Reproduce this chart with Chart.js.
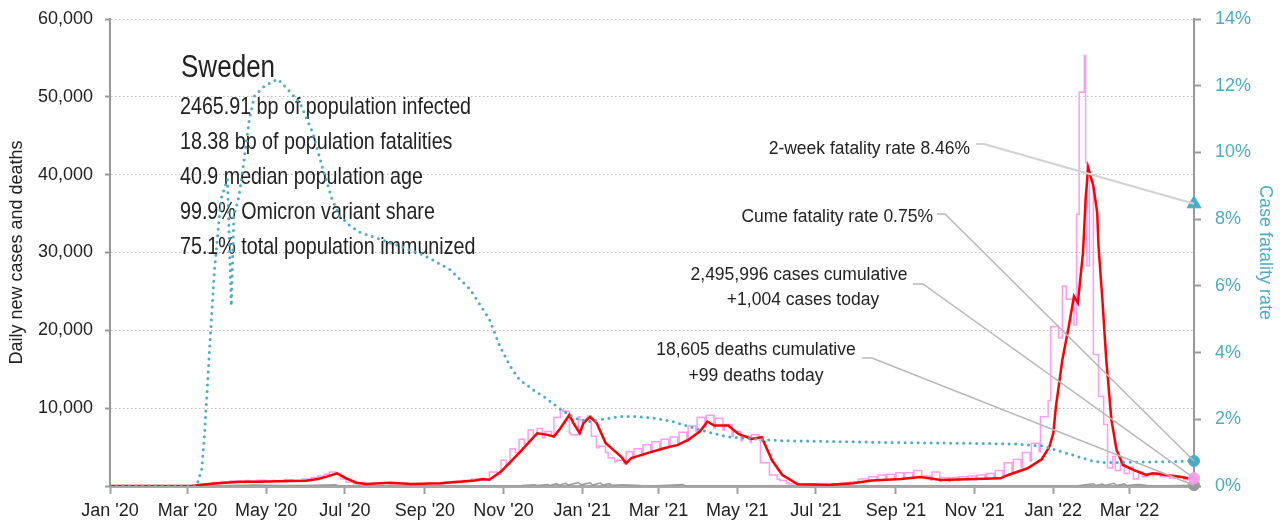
<!DOCTYPE html>
<html>
<head>
<meta charset="utf-8">
<script src="https://cdn.jsdelivr.net/npm/chart.js@4.4.1/dist/chart.umd.min.js"></script>
<style>
  html, body { margin: 0; padding: 0; background: #fff; }
  canvas { display: block; }
</style>
</head>
<body>
<canvas id="myChart" width="1283" height="525"></canvas>
<script>
// x tick marks (every second month)
const xTickDates = ['2020-01-01', '2020-03-01', '2020-05-01', '2020-07-01', '2020-09-01', '2020-11-01',
    '2021-01-01', '2021-03-01', '2021-05-01', '2021-07-01', '2021-09-01', '2021-11-01',
    '2022-01-01', '2022-03-01']
const xTickLabels = ["Jan '20", "Mar '20", "May '20", "Jul '20", "Sep '20", "Nov '20",
    "Jan '21", "Mar '21", "May '21", "Jul '21", "Sep '21", "Nov '21",
    "Jan '22", "Mar '22"]
const lastDate = '2022-04-20'

// daily new cases (pink, reported in steps)
const dailyCaseDates = [
    '2020-01-01', '2020-03-05', '2020-03-10', '2020-03-14', '2020-03-20', '2020-03-27', '2020-04-03', '2020-04-10',
    '2020-04-15', '2020-04-17', '2020-04-24', '2020-05-01', '2020-05-06', '2020-05-08', '2020-05-15', '2020-05-22',
    '2020-05-29', '2020-06-05', '2020-06-10', '2020-06-15', '2020-06-19', '2020-06-24', '2020-06-28', '2020-07-02',
    '2020-07-08', '2020-07-14', '2020-07-22', '2020-07-29', '2020-08-05', '2020-08-12', '2020-08-19', '2020-08-26',
    '2020-09-02', '2020-09-09', '2020-09-16', '2020-09-23', '2020-09-30', '2020-10-07', '2020-10-14', '2020-10-21',
    '2020-10-27', '2020-10-30', '2020-11-03', '2020-11-06', '2020-11-10', '2020-11-13', '2020-11-17', '2020-11-20',
    '2020-11-24', '2020-11-27', '2020-12-01', '2020-12-03', '2020-12-08', '2020-12-10', '2020-12-15', '2020-12-17',
    '2020-12-22', '2020-12-23', '2020-12-29', '2020-12-30', '2021-01-05', '2021-01-08', '2021-01-12', '2021-01-14',
    '2021-01-19', '2021-01-21', '2021-01-26', '2021-01-28', '2021-02-02', '2021-02-04', '2021-02-09', '2021-02-10',
    '2021-02-16', '2021-02-17', '2021-02-23', '2021-02-24', '2021-03-02', '2021-03-03', '2021-03-09', '2021-03-10',
    '2021-03-16', '2021-03-17', '2021-03-23', '2021-03-24', '2021-03-30', '2021-03-31', '2021-04-06', '2021-04-07',
    '2021-04-13', '2021-04-14', '2021-04-20', '2021-04-21', '2021-04-27', '2021-04-28', '2021-05-04', '2021-05-05',
    '2021-05-11', '2021-05-12', '2021-05-18', '2021-05-19', '2021-05-26', '2021-06-01', '2021-06-03', '2021-06-08',
    '2021-06-10', '2021-06-15', '2021-06-22', '2021-07-01', '2021-07-13', '2021-07-20', '2021-07-27', '2021-08-03',
    '2021-08-10', '2021-08-11', '2021-08-17', '2021-08-18', '2021-08-24', '2021-08-25', '2021-08-31', '2021-09-01',
    '2021-09-07', '2021-09-08', '2021-09-14', '2021-09-15', '2021-09-21', '2021-09-22', '2021-09-28', '2021-09-29',
    '2021-10-05', '2021-10-06', '2021-10-12', '2021-10-13', '2021-10-19', '2021-10-20', '2021-10-26', '2021-10-27',
    '2021-11-02', '2021-11-03', '2021-11-09', '2021-11-10', '2021-11-16', '2021-11-17', '2021-11-23', '2021-11-24',
    '2021-11-30', '2021-12-01', '2021-12-07', '2021-12-08', '2021-12-14', '2021-12-15', '2021-12-21', '2021-12-22',
    '2021-12-28', '2021-12-30', '2022-01-05', '2022-01-08', '2022-01-11', '2022-01-17', '2022-01-19', '2022-01-21',
    '2022-01-25', '2022-01-26', '2022-01-27', '2022-01-29', '2022-02-01', '2022-02-05', '2022-02-09', '2022-02-12',
    '2022-02-16', '2022-02-18', '2022-02-22', '2022-02-25', '2022-03-01', '2022-03-04', '2022-03-08', '2022-03-11',
    '2022-03-15', '2022-03-18', '2022-03-22', '2022-03-25', '2022-03-29', '2022-04-01', '2022-04-06', '2022-04-12',
    '2022-04-15', '2022-04-20']
const dailyCases = [
    0, 0, 100, 200, 300, 450, 500, 650,
    450, 700, 600, 750, 550, 700, 650, 800,
    700, 900, 1100, 1300, 1500, 1800, 1500, 900,
    500, 300, 250, 350, 400, 250, 350, 250,
    250, 350, 300, 500, 600, 700, 900, 750,
    1800, 1500, 3300, 2800, 4800, 4300, 6000, 5400,
    7200, 6500, 7400, 6200, 7000, 6500, 8800, 9800,
    9600, 6800, 6600, 8900, 8500, 9000, 6400, 4900,
    5100, 4300, 3600, 3100, 3300, 2900, 4400, 3500,
    4800, 3900, 5300, 4300, 5700, 4700, 6000, 5000,
    6300, 5200, 6900, 5800, 7700, 7000, 8800, 7600,
    9100, 7400, 8700, 7200, 7900, 6400, 7000, 5800,
    6400, 5600, 6600, 5900, 3000, 1400, 900, 700,
    400, 300, 200, 250, 150, 300, 350, 500,
    900, 600, 1200, 800, 1400, 900, 1500, 900,
    1700, 1000, 1700, 1000, 2000, 1100, 1300, 700,
    1800, 600, 1100, 600, 1100, 700, 1200, 800,
    1300, 800, 1400, 900, 1600, 1000, 2000, 1300,
    3000, 1800, 3400, 2400, 4300, 3200, 5500, 4400,
    8900, 11000, 20500, 19000, 25700, 24000, 20700, 34900,
    50600, 55300, 41500, 28300, 39200, 16900, 11500, 7900,
    2300, 3800, 2000, 3000, 1600, 2400, 900, 1800,
    1200, 1600, 1400, 1700, 1200, 1300, 1000, 1200,
    800, 1004]

// 7-day average of new cases (red)
const avgCaseDates = [
    '2020-01-01', '2020-03-05', '2020-03-10', '2020-03-20', '2020-03-30', '2020-04-11', '2020-04-25', '2020-05-10',
    '2020-06-01', '2020-06-10', '2020-06-17', '2020-06-25', '2020-07-02', '2020-07-10', '2020-07-18', '2020-08-05',
    '2020-08-21', '2020-09-13', '2020-09-28', '2020-10-10', '2020-10-16', '2020-10-21', '2020-10-30', '2020-11-14',
    '2020-11-27', '2020-12-05', '2020-12-10', '2020-12-15', '2020-12-22', '2020-12-25', '2020-12-30', '2021-01-02',
    '2021-01-07', '2021-01-12', '2021-01-19', '2021-01-25', '2021-01-31', '2021-02-04', '2021-02-08', '2021-02-21',
    '2021-03-06', '2021-03-16', '2021-03-24', '2021-04-02', '2021-04-08', '2021-04-13', '2021-04-24', '2021-05-02',
    '2021-05-12', '2021-05-20', '2021-05-28', '2021-06-05', '2021-06-17', '2021-07-12', '2021-07-30', '2021-08-13',
    '2021-09-05', '2021-09-20', '2021-10-06', '2021-10-26', '2021-11-21', '2021-11-27', '2021-12-12', '2021-12-23',
    '2021-12-29', '2022-01-01', '2022-01-03', '2022-01-08', '2022-01-13', '2022-01-17', '2022-01-20', '2022-01-24',
    '2022-01-26', '2022-01-28', '2022-02-01', '2022-02-04', '2022-02-05', '2022-02-08', '2022-02-11', '2022-02-15',
    '2022-02-19', '2022-02-24', '2022-03-04', '2022-03-14', '2022-03-19', '2022-03-29', '2022-04-09', '2022-04-20']
const avgCases = [
    0, 0, 130, 300, 420, 560, 560, 600,
    690, 900, 1200, 1630, 990, 420, 260, 420,
    260, 350, 560, 700, 900, 800, 1850, 4420,
    6780, 6570, 6350, 7430, 9140, 8120, 6780, 8120,
    8880, 8120, 5540, 4640, 3780, 2920, 3600, 4250,
    4890, 5280, 5920, 7000, 8280, 7770, 7770, 6700,
    6050, 6270, 3300, 1420, 220, 150, 360, 700,
    900, 1150, 770, 860, 990, 1420, 2280, 3440,
    5060, 6800, 10200, 16230, 20520, 24380, 23530, 29970,
    36840, 40920, 38550, 35120, 30820, 23960, 16230, 8500,
    4640, 2700, 2060, 1420, 1630, 1420, 1200, 860]

// daily new deaths (grey)
const deathDates = [
    '2020-01-01', '2020-03-10', '2020-03-25', '2020-04-08', '2020-04-15', '2020-04-22', '2020-05-01', '2020-05-15',
    '2020-06-01', '2020-06-24', '2020-06-26', '2020-07-15', '2020-08-01', '2020-10-01', '2020-11-01', '2020-11-15',
    '2020-11-25', '2020-11-27', '2020-12-05', '2020-12-07', '2020-12-12', '2020-12-14', '2020-12-19', '2020-12-21',
    '2020-12-29', '2020-12-31', '2021-01-07', '2021-01-09', '2021-01-15', '2021-01-17', '2021-01-22', '2021-01-24',
    '2021-02-01', '2021-02-15', '2021-03-01', '2021-03-20', '2021-03-22', '2021-04-15', '2021-06-01', '2021-10-01',
    '2022-01-01', '2022-01-20', '2022-02-01', '2022-02-03', '2022-02-08', '2022-02-10', '2022-02-17', '2022-02-19',
    '2022-02-25', '2022-02-27', '2022-03-08', '2022-03-15', '2022-04-01', '2022-04-20']
const deaths = [
    0, 0, 30, 110, 100, 120, 90, 70,
    50, 150, 20, 20, 5, 5, 20, 50,
    150, 60, 200, 80, 300, 100, 350, 120,
    450, 150, 400, 130, 380, 120, 300, 90,
    150, 60, 30, 200, 20, 20, 10, 5,
    10, 40, 300, 60, 250, 80, 350, 60,
    280, 50, 200, 60, 40, 99]

// case fatality rate, % (teal dotted, right axis)
const cfrDates = [
    '2020-01-01', '2020-03-08', '2020-03-12', '2020-03-14', '2020-03-18', '2020-03-22', '2020-03-27', '2020-04-01',
    '2020-04-04', '2020-04-06', '2020-04-10', '2020-04-14', '2020-04-18', '2020-04-22', '2020-04-30', '2020-05-10',
    '2020-05-15', '2020-05-27', '2020-06-06', '2020-06-14', '2020-06-21', '2020-06-27', '2020-07-05', '2020-07-13',
    '2020-08-12', '2020-09-01', '2020-09-20', '2020-10-06', '2020-10-21', '2020-10-29', '2020-11-06', '2020-11-13',
    '2020-11-24', '2020-12-04', '2020-12-14', '2020-12-22', '2020-12-30', '2021-01-07', '2021-01-17', '2021-01-30',
    '2021-02-12', '2021-02-27', '2021-03-12', '2021-03-25', '2021-04-07', '2021-04-23', '2021-05-08', '2021-05-26',
    '2021-06-03', '2021-09-04', '2021-10-26', '2021-12-03', '2021-12-24', '2022-01-03', '2022-01-16', '2022-01-31',
    '2022-02-11', '2022-03-04', '2022-04-20']
const cfr = [
    0, 0, 0.5, 1.4, 4.0, 6.5, 8.6, 9.2,
    5.4, 8.1, 8.7, 9.8, 11.0, 11.7, 12.0, 12.2,
    12.0, 11.5, 10.6, 9.5, 8.6, 8.1, 7.8, 7.6,
    7.2, 6.9, 6.5, 5.9, 5.0, 4.2, 3.6, 3.2,
    2.88, 2.63, 2.33, 2.13, 1.98, 1.93, 2.0, 2.08,
    2.08, 2.03, 1.93, 1.78, 1.63, 1.48, 1.43, 1.38,
    1.36, 1.30, 1.28, 1.26, 1.20, 1.08, 0.93, 0.75,
    0.70, 0.71, 0.75]

// latest values shown at the right edge
const twoWeekRate = 8.46
const cumeRate = 0.75
const casesToday = 1004
const deathsToday = 99

const countryName = 'Sweden'
const statLines = [
    '2465.91 bp of population infected',
    '18.38 bp of population fatalities',
    '40.9 median population age',
    '99.9% Omicron variant share',
    '75.1% total population immunized'
]

const TEAL = '#4bacc6'
const PINK = '#ff9cf2'
const GREY = '#9a9a9a'

const DAY0 = Date.UTC(2020, 0, 1)
const toDay = (s) => (Date.UTC(+s.slice(0, 4), +s.slice(5, 7) - 1, +s.slice(8, 10)) - DAY0) / 86400000
const toPoints = (dates, vals) => dates.map((d, i) => ({ x: toDay(d), y: vals[i] }))
const lastDay = toDay(lastDate)
const xTickDays = xTickDates.map(toDay)

// no narrow font installed, so squeeze the regular one
const narrowText = (ctx, text, x, y, sx) => {
    ctx.save()
    ctx.translate(x, y)
    ctx.scale(sx, 1)
    ctx.fillText(text, 0, 0)
    ctx.restore()
}

const textPlugin = {
    id: 'textPlugin',
    beforeDatasetsDraw(chart) {
        const ctx = chart.ctx
        ctx.save()
        ctx.fillStyle = '#222'
        ctx.textAlign = 'left'
        ctx.textBaseline = 'alphabetic'
        ctx.font = "31px 'Liberation Sans', sans-serif"
        narrowText(ctx, countryName, 181, 77, 0.84)
        ctx.font = "24px 'Liberation Sans', sans-serif"
        statLines.forEach((line, i) => {
            narrowText(ctx, line, 180, 114 + i * 35, 0.82)
        })
        ctx.restore()
    },
    afterDatasetsDraw(chart) {
        const ctx = chart.ctx
        const x = chart.scales.x
        const y = chart.scales.y
        const y1 = chart.scales.y1
        const endX = x.getPixelForValue(lastDay)

        const leader = (x0, yy, x1, ty, color, width) => {
            ctx.save()
            ctx.strokeStyle = color
            ctx.lineWidth = width
            ctx.beginPath()
            ctx.moveTo(x0, yy)
            ctx.lineTo(x1, yy)
            ctx.lineTo(endX, ty)
            ctx.stroke()
            ctx.restore()
        }
        leader(976, 144, 984, y1.getPixelForValue(twoWeekRate), '#d2d2d2', 2)
        leader(937, 214, 945, y1.getPixelForValue(cumeRate), '#b8b8b8', 1.5)
        leader(913, 284, 923, y.getPixelForValue(casesToday), '#b8b8b8', 1.5)
        leader(862, 358, 872, y.getPixelForValue(deathsToday), '#b8b8b8', 1.5)

        ctx.save()
        ctx.fillStyle = '#222'
        ctx.textBaseline = 'middle'
        ctx.font = "17.5px 'Liberation Sans', sans-serif"
        ctx.textAlign = 'right'
        ctx.fillText('2-week fatality rate ' + twoWeekRate.toFixed(2) + '%', 970, 149)
        ctx.fillText('Cume fatality rate ' + cumeRate.toFixed(2) + '%', 933, 217)
        ctx.textAlign = 'center'
        ctx.fillText('2,495,996 cases cumulative', 799, 275)
        ctx.fillText('+' + casesToday.toLocaleString('en-US') + ' cases today', 803, 300)
        ctx.fillText('18,605 deaths cumulative', 756, 350)
        ctx.fillText('+' + deathsToday + ' deaths today', 756, 376)
        ctx.restore()
    }
}

Chart.defaults.font.family = "'Liberation Sans', Arial, sans-serif"

const ctx = document.getElementById('myChart').getContext('2d')
new Chart(ctx, {
    type: 'line',
    data: {
        datasets: [
            {
                label: 'Two-week fatality rate',
                data: [{ x: lastDay, y: twoWeekRate }],
                yAxisID: 'y1',
                showLine: false,
                clip: false,
                pointStyle: 'triangle',
                pointRadius: 8,
                backgroundColor: TEAL,
                borderColor: TEAL,
                order: 0
            },
            {
                label: 'Cume fatality rate',
                data: [{ x: lastDay, y: cumeRate }],
                yAxisID: 'y1',
                showLine: false,
                clip: false,
                pointRadius: 5.5,
                backgroundColor: TEAL,
                borderColor: TEAL,
                order: 0
            },
            {
                label: 'Cases today',
                data: [{ x: lastDay, y: casesToday }],
                yAxisID: 'y',
                showLine: false,
                clip: false,
                pointRadius: 5.5,
                backgroundColor: PINK,
                borderColor: PINK,
                order: 0
            },
            {
                label: 'Deaths today',
                data: [{ x: lastDay, y: deathsToday }],
                yAxisID: 'y',
                showLine: false,
                clip: false,
                pointRadius: 5.5,
                backgroundColor: GREY,
                borderColor: GREY,
                order: 0
            },
            {
                label: 'Case fatality rate',
                data: toPoints(cfrDates, cfr),
                yAxisID: 'y1',
                borderColor: TEAL,
                borderWidth: 3,
                borderDash: [0, 6.5],
                borderCapStyle: 'round',
                pointRadius: 0,
                order: 1
            },
            {
                label: 'New cases (7-day average)',
                data: toPoints(avgCaseDates, avgCases),
                yAxisID: 'y',
                borderColor: '#ff0000',
                borderWidth: 2.5,
                pointRadius: 0,
                order: 2
            },
            {
                label: 'New cases',
                data: toPoints(dailyCaseDates, dailyCases),
                yAxisID: 'y',
                borderColor: PINK,
                borderWidth: 1.5,
                stepped: 'after',
                pointRadius: 0,
                order: 3
            },
            {
                label: 'New deaths',
                data: toPoints(deathDates, deaths),
                yAxisID: 'y',
                borderColor: GREY,
                borderWidth: 1.5,
                pointRadius: 0,
                order: 4
            }
        ]
    },
    options: {
        responsive: false,
        animation: false,
        layout: { padding: { top: 19, left: 0, right: 0, bottom: 0 } },
        plugins: {
            legend: { display: false },
            tooltip: { enabled: false }
        },
        scales: {
            x: {
                type: 'linear',
                min: 0,
                max: lastDay,
                afterBuildTicks: (scale) => {
                    scale.ticks = xTickDays.map(v => ({ value: v }))
                },
                afterFit: (scale) => { scale.height = 39 },
                ticks: {
                    autoSkip: false,
                    maxRotation: 0,
                    padding: 6,
                    color: '#222',
                    font: { size: 18 },
                    callback: (value, index) => xTickLabels[index]
                },
                grid: { drawOnChartArea: false, tickLength: 8, tickColor: '#a0a0a0', tickWidth: 2 },
                border: { color: '#a8a8a8', width: 3 }
            },
            y: {
                position: 'left',
                min: 0,
                max: 60000,
                afterFit: (scale) => {
                    scale.width = 110
                    scale.paddingTop = 0
                    scale.paddingBottom = 0
                },
                ticks: {
                    stepSize: 10000,
                    padding: 12,
                    color: '#222',
                    font: { size: 18 },
                    callback: (value) => value === 0 ? '' : value.toLocaleString('en-US')
                },
                grid: { color: '#bdbdbd', lineWidth: 1, tickLength: 5, tickColor: '#999', tickWidth: 2 },
                border: { color: '#999', width: 2, dash: [1.5, 2.5] },
                title: {
                    display: true,
                    text: 'Daily new cases and deaths',
                    color: '#222',
                    font: { size: 18 },
                    padding: { top: 6, bottom: 0 }
                }
            },
            y1: {
                position: 'right',
                min: 0,
                max: 14,
                afterFit: (scale) => {
                    scale.width = 89
                    scale.paddingTop = 0
                    scale.paddingBottom = 0
                },
                ticks: {
                    stepSize: 2,
                    padding: 14,
                    color: TEAL,
                    font: { size: 18 },
                    callback: (value) => value + '%'
                },
                grid: { drawOnChartArea: false, tickLength: 7, tickColor: '#999', tickWidth: 2 },
                border: { color: '#999', width: 2 },
                title: {
                    display: true,
                    text: 'Case fatality rate',
                    color: TEAL,
                    font: { size: 18 },
                    padding: { top: 7, bottom: 0 }
                }
            }
        }
    },
    plugins: [textPlugin]
})
</script>
</body>
</html>
